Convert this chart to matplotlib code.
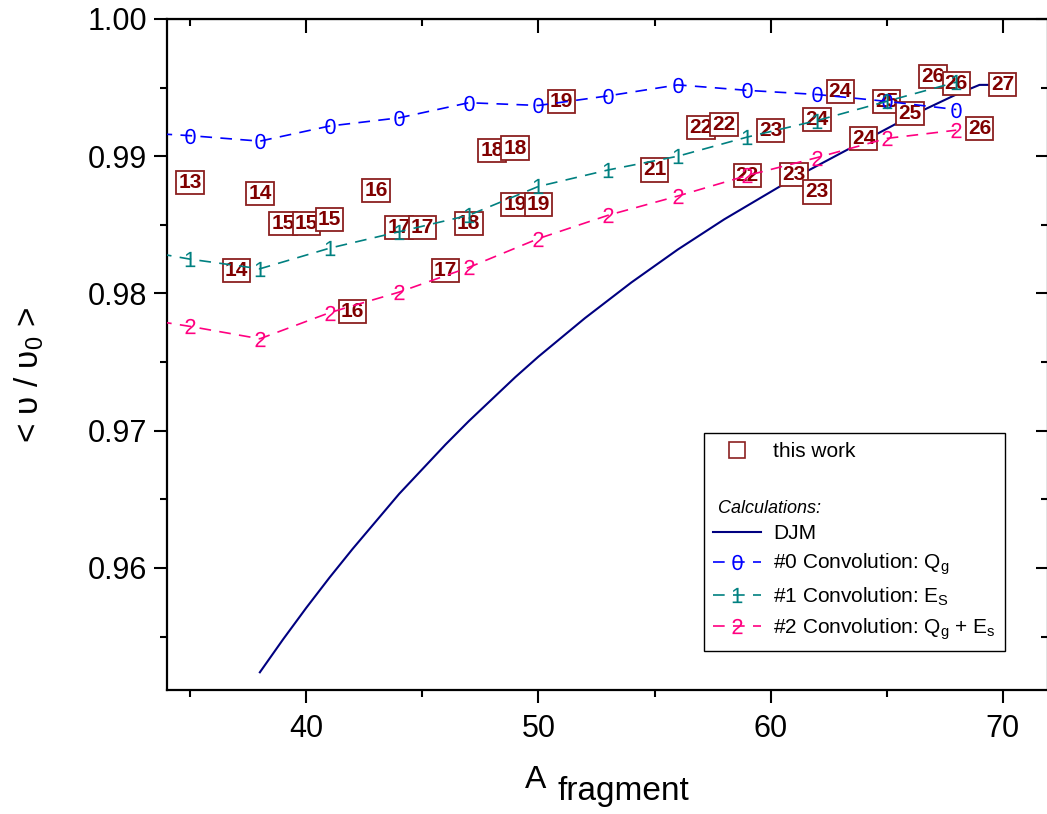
import matplotlib.pyplot as plt
from matplotlib.lines import Line2D
from matplotlib.ticker import MultipleLocator, FormatStrFormatter

plt.rcParams['font.family'] = ['Liberation Sans', 'DejaVu Sans']
plt.rcParams['mathtext.fontset'] = 'custom'
plt.rcParams['mathtext.rm'] = 'Liberation Sans'
plt.rcParams['mathtext.it'] = 'Liberation Sans:italic'
plt.rcParams['mathtext.bf'] = 'Liberation Sans:bold'

# Convolution calculations (every 3rd mass number)
a_calc = [32, 35, 38, 41, 44, 47, 50, 53, 56, 59, 62, 65, 68]
conv_qg = [0.9918, 0.9915, 0.9911, 0.9922, 0.9928, 0.9939, 0.9937,
           0.9944, 0.9952, 0.9948, 0.9945, 0.9940, 0.9934]
conv_es = [0.9834, 0.9825, 0.9818, 0.9833, 0.9845, 0.9857, 0.9878,
           0.9890, 0.9900, 0.9914, 0.9926, 0.9940, 0.9954]
conv_qg_es = [0.9784, 0.9776, 0.9767, 0.9786, 0.9801, 0.9819, 0.9840,
              0.9857, 0.9871, 0.9886, 0.9899, 0.9913, 0.9919]

# DJM curve
a_djm = list(range(38, 71))
djm = [0.9524, 0.9548, 0.9571, 0.9593, 0.9614, 0.9634, 0.9654, 0.9672,
       0.9690, 0.9707, 0.9723, 0.9739, 0.9754, 0.9768, 0.9782, 0.9795,
       0.9808, 0.9820, 0.9832, 0.9843, 0.9854, 0.9864, 0.9874, 0.9884,
       0.9893, 0.9902, 0.9911, 0.9920, 0.9929, 0.9937, 0.9945, 0.9952,
       0.9952]

# this work: fragment mass, <v/v0>, fragment charge label
a_exp = [35, 37, 38, 39, 40, 41, 42, 43, 44, 45, 46, 47, 48, 49, 49, 50, 51,
         55, 57, 58, 59, 60, 61, 62, 62, 63, 64, 65, 66, 67, 68, 69, 70]
v_exp = [0.9881, 0.9817, 0.9873, 0.9851, 0.9851, 0.9854, 0.9787, 0.9875,
         0.9848, 0.9848, 0.9817, 0.9851, 0.9904, 0.9906, 0.9865, 0.9865,
         0.9940, 0.9890, 0.9921, 0.9923, 0.9886, 0.9919, 0.9887, 0.9874,
         0.9927, 0.9947, 0.9913, 0.9940, 0.9931, 0.9958, 0.9953, 0.9920,
         0.9952]
z_exp = [13, 14, 14, 15, 15, 15, 16, 16, 17, 17, 17, 18, 18, 18, 19, 19, 19,
         21, 22, 22, 22, 23, 23, 23, 24, 24, 24, 25, 25, 26, 26, 26, 27]

box_red = "#800000"
box_edge = "#8B2020"
dash = (0, (7, 5))
mk = 11

fig = plt.figure(figsize=(10.47, 8.14), dpi=100)
ax = fig.add_axes([167 / 1047, 124 / 814, 881 / 1047, 671 / 814])

# DJM below the boxes
ax.plot(a_djm, djm, color="#000080", lw=1.5, zorder=2)

for i, (a, v, z) in enumerate(zip(a_exp, v_exp, z_exp)):
    ax.text(a, v, str(z), ha="center", va="center", fontsize=15,
            fontweight="bold", color=box_red, zorder=3 + i * 0.001,
            bbox=dict(boxstyle="square,pad=0.1", fc="white", ec=box_edge, lw=1.3))

ax.plot(a_calc, conv_qg, color="#0000FF", lw=1.2, ls=dash, marker="$0$",
        ms=mk, mew=0, zorder=4)
ax.plot(a_calc, conv_es, color="#008080", lw=1.2, ls=dash, marker="$1$",
        ms=mk, mew=0, zorder=4)
ax.plot(a_calc, conv_qg_es, color="#FF0080", lw=1.2, ls=dash, marker="$2$",
        ms=mk, mew=0, zorder=4)

ax.set_xlim(34, 71.95)
ax.set_ylim(0.95111, 1.0)

ax.xaxis.set_major_locator(MultipleLocator(10))
ax.xaxis.set_minor_locator(MultipleLocator(5))
ax.yaxis.set_major_locator(MultipleLocator(0.01))
ax.yaxis.set_minor_locator(MultipleLocator(0.005))
ax.yaxis.set_major_formatter(FormatStrFormatter("%.2f"))

for s in ax.spines.values():
    s.set_linewidth(1.6)

ax.tick_params(which="both", direction="out", width=1.5, labelsize=22)
ax.tick_params(which="major", length=9.5)
ax.tick_params(which="minor", length=5)
ax.tick_params(axis="x", which="major", pad=8)
ax.tick_params(axis="y", which="major", pad=5)

top = ax.secondary_xaxis("top")
top.xaxis.set_major_locator(MultipleLocator(10))
top.xaxis.set_minor_locator(MultipleLocator(5))
top.tick_params(which="both", direction="in", width=1.5, labeltop=False)
top.tick_params(which="major", length=10)
top.tick_params(which="minor", length=5)

right = ax.secondary_yaxis("right")
right.yaxis.set_major_locator(MultipleLocator(0.01))
right.yaxis.set_minor_locator(MultipleLocator(0.005))
right.tick_params(which="both", direction="in", width=1.5, labelright=False)
right.tick_params(which="major", length=9)
right.tick_params(which="minor", length=5)

ax.set_ylabel(r"< υ / υ$_{0}$ >", fontsize=24, va="center")
ax.yaxis.set_label_coords(-0.156, 0.47)

ax.set_xlabel("A", fontsize=23, va="top")
ax.xaxis.set_label_coords(0.418, -0.112)
ax.annotate("fragment", xy=(1, 0), xycoords=ax.xaxis.label, xytext=(8, -3.5),
            textcoords="offset points", fontsize=24, ha="left", va="baseline")

# legend
handles = [
    Line2D([], [], ls="none", marker="s", ms=12, mfc="white", mec=box_edge, mew=1.2),
    Line2D([], [], ls="none"),
    Line2D([], [], ls="none"),
    Line2D([], [], color="#000080", lw=1.5),
    Line2D([], [], color="#0000FF", lw=1.2, ls=dash, marker="$0$", ms=mk, mew=0),
    Line2D([], [], color="#008080", lw=1.2, ls=dash, marker="$1$", ms=mk, mew=0),
    Line2D([], [], color="#FF0080", lw=1.2, ls=dash, marker="$2$", ms=mk, mew=0),
]
labels = ["this work", " ", " ", "DJM",
          r"#0 Convolution: Q$_\mathrm{g}$",
          r"#1 Convolution: E$_\mathrm{S}$",
          r"#2 Convolution: Q$_\mathrm{g}$ + E$_\mathrm{s}$"]
leg = ax.legend(handles, labels, loc="upper left", bbox_to_anchor=(0.609, 0.383),
                fontsize=15, frameon=True, fancybox=False, edgecolor="black",
                framealpha=1, borderaxespad=0, handlelength=2.3, handletextpad=0.6,
                labelspacing=0.4, numpoints=1, borderpad=0.45)
leg.get_frame().set_linewidth(1.0)
leg.set_zorder(10)

ax.text(0.625, 0.271, "Calculations:", transform=ax.transAxes, fontsize=13,
        style="italic", ha="left", va="center", zorder=11)

fig.savefig("out.png", dpi=100)
